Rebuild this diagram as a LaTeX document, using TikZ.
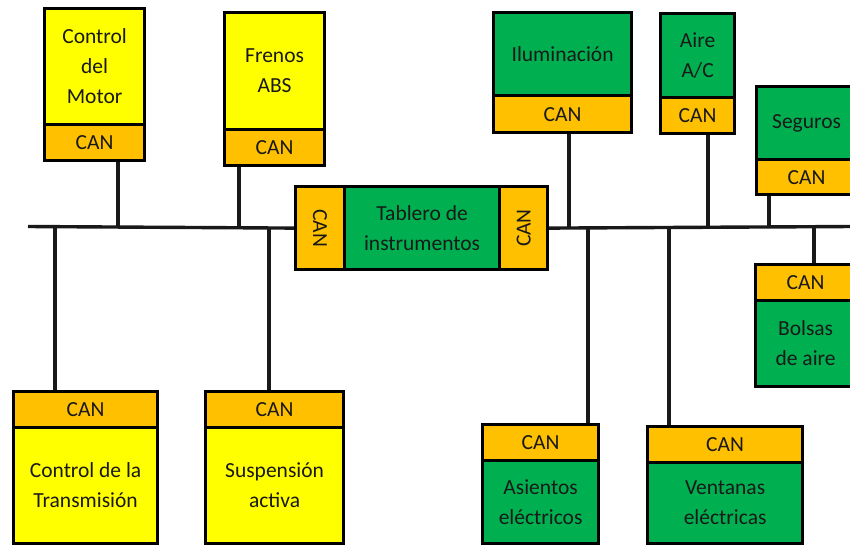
\documentclass[tikz,border=0pt]{standalone}
\usepackage{fontspec}
\usepackage{graphicx}
\setmainfont{Carlito}
\definecolor{ecuyellow}{HTML}{FFFF00}
\definecolor{canorange}{HTML}{FFC000}
\definecolor{ecugreen}{HTML}{00B050}
\tikzset{
  part/.style={draw=black, line width=3.2pt, rectangle, inner sep=0pt,
    anchor=north west, align=center, text=black!90,
    font=\fontsize{21.5}{30}\selectfont},
  ybox/.style={part, fill=ecuyellow},
  gbox/.style={part, fill=ecugreen},
  canbox/.style={part, fill=canorange},
  wire/.style={line width=3.4pt, draw=black!90},
}
\begin{document}
\begin{tikzpicture}[x=1pt,y=-1pt]
\useasboundingbox (0,0) rectangle (850,544);

% bus end points and drop points
\coordinate (busL) at (28,226.5);
\coordinate (busR) at (852,226.5);
\coordinate (jM) at (118,226.5);
\coordinate (jF) at (239,226.5);
\coordinate (jI) at (569,226.5);
\coordinate (jA) at (708,226.5);
\coordinate (jS) at (769,226.5);
\coordinate (jT) at (55,226.5);
\coordinate (jP) at (269,226.5);
\coordinate (jE) at (588,226.5);
\coordinate (jV) at (669,226.5);
\coordinate (jB) at (814,226.5);

% central dashboard with its two CAN interfaces
\node[canbox, minimum width=49, minimum height=83] (canTL) at (294,185) {\rotatebox{-90}{CAN}};
\node[gbox, minimum width=155, minimum height=83] (tab) at (343,185) {Tablero de\\instrumentos};
\node[canbox, minimum width=48, minimum height=83] (canTR) at (498,185) {\rotatebox{90}{CAN}};

% bus
\draw[wire] (busL) -- (canTL.west);
\draw[wire] (canTR.east) -- (busR);

% upper units
\node[ybox, minimum width=100, minimum height=116] (mot) at (43,7) {Control\\del\\Motor};
\node[canbox, minimum width=100, minimum height=36] (canM) at (43,123) {CAN};
\node[ybox, minimum width=100, minimum height=117] (fre) at (223,11) {Frenos\\ABS};
\node[canbox, minimum width=100, minimum height=36] (canF) at (223,128) {CAN};
\node[gbox, minimum width=138, minimum height=83] (ilu) at (492,11) {Iluminación};
\node[canbox, minimum width=138, minimum height=37] (canI) at (492,94) {CAN};
\node[gbox, minimum width=74, minimum height=84] (aire) at (659,12) {Aire\\A/C};
\node[canbox, minimum width=74, minimum height=36] (canA) at (659,96) {CAN};
\node[gbox, minimum width=100, minimum height=73] (seg) at (755,85) {Seguros};
\node[canbox, minimum width=100, minimum height=35] (canS) at (755,158) {CAN};

% lower units
\node[canbox, minimum width=144, minimum height=36] (canT) at (12,390) {CAN};
\node[ybox, minimum width=144, minimum height=116] (tra) at (12,426) {Control de la\\Transmisión};
\node[canbox, minimum width=138, minimum height=36] (canP) at (204,390) {CAN};
\node[ybox, minimum width=138, minimum height=116] (sus) at (204,426) {Suspensión\\activa};
\node[canbox, minimum width=116, minimum height=36] (canE) at (481,423) {CAN};
\node[gbox, minimum width=116, minimum height=83] (asi) at (481,459) {Asientos\\eléctricos};
\node[canbox, minimum width=155, minimum height=36] (canV) at (646,425) {CAN};
\node[gbox, minimum width=155, minimum height=81] (ven) at (646,461) {Ventanas\\eléctricas};
\node[canbox, minimum width=100, minimum height=36] (canB) at (754,263) {CAN};
\node[gbox, minimum width=100, minimum height=86] (bol) at (754,299) {Bolsas\\de aire};

% drops from the bus
\draw[wire] (canM.south -| jM) -- (jM);
\draw[wire] (canF.south -| jF) -- (jF);
\draw[wire] (canI.south -| jI) -- (jI);
\draw[wire] (canA.south -| jA) -- (jA);
\draw[wire] (canS.south -| jS) -- (jS);
\draw[wire] (jT) -- (jT |- canT.north);
\draw[wire] (jP) -- (jP |- canP.north);
\draw[wire] (jE) -- (jE |- canE.north);
\draw[wire] (jV) -- (jV |- canV.north);
\draw[wire] (jB) -- (jB |- canB.north);
\end{tikzpicture}
\end{document}
